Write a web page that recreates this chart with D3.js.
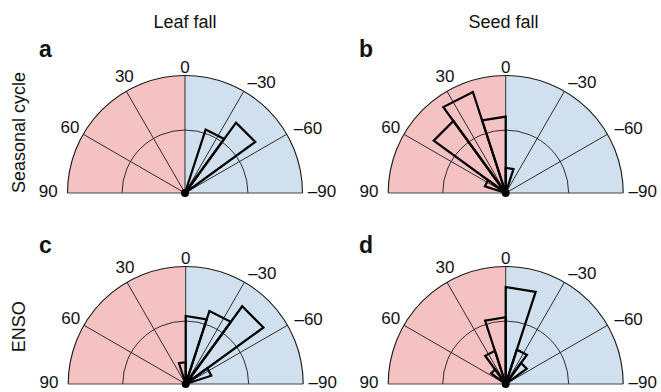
<!DOCTYPE html>
<html>
<head>
<meta charset="utf-8">
<script src="https://cdn.jsdelivr.net/npm/d3@7"></script>
<style>
  html, body { margin: 0; padding: 0; background: #ffffff; }
  svg { display: block; }
  text { font-family: "Liberation Sans", Arial, Helvetica, sans-serif; fill: #111; }
</style>
</head>
<body>
<svg id="chart" width="661" height="392"></svg>
<script>
// Phase-angle bins (degrees), 18° wide, from -90 to 90
const binEdges = [-90, -72, -54, -36, -18, 0, 18, 36, 54, 72, 90];

// Proportion of records per bin, listed from -90 up to 90
const leafSeasonal = [0, 0, 0.207, 0.159, 0, 0, 0, 0, 0, 0];
const seedSeasonal = [0, 0, 0, 0, 0.060, 0.182, 0.253, 0.212, 0.052, 0];
const leafENSO     = [0, 0.064, 0.229, 0.183, 0.162, 0.052, 0, 0, 0, 0];
const seedENSO     = [0, 0, 0.062, 0.086, 0.231, 0.159, 0.083, 0.043, 0, 0];

// Angular tick labels
const tickAngles = [90, 60, 30, 0, -30, -60, -90];
const tickLabels = ["90", "60", "30", "0", "\u201330", "\u201360", "\u201390"];

// Panel text
const columnTitles = ["Leaf fall", "Seed fall"];
const rowTitles = ["Seasonal cycle", "ENSO"];
const panelLetters = ["a", "b", "c", "d"];

// Radial axis: outer rim and the inner reference ring
const radialMax = 0.28;
const radialRing = 0.15;

const panels = [
  { letter: panelLetters[0], values: leafSeasonal, cx: 185,   cy: 193, lx: 39,  ly: 57 },
  { letter: panelLetters[1], values: seedSeasonal, cx: 505.7, cy: 193, lx: 359, ly: 57 },
  { letter: panelLetters[2], values: leafENSO,     cx: 185.7, cy: 384, lx: 39,  ly: 253 },
  { letter: panelLetters[3], values: seedENSO,     cx: 505.7, cy: 384, lx: 359, ly: 253 }
];

const R = 117.5;
const r = d3.scaleLinear().domain([0, radialMax]).range([0, R]);

// label nudges (px) applied after placing at 1.1 × rim radius
const labelNudge = {
  "90": [-7.5, -2], "60": [-3, -1.4], "30": [4, -5], "0": [0, 3.2],
  "-30": [12, 1.4], "-60": [11, -0.4], "-90": [7.8, -2]
};

const svg = d3.select("#chart");

// angle a (deg): 0 at top, positive towards the left
function polar(cx, cy, a, rad) {
  const t = a * Math.PI / 180;
  return [cx - rad * Math.sin(t), cy - rad * Math.cos(t)];
}

panels.forEach(p => {
  const g = svg.append("g");

  // shaded halves
  const sector = d3.arc().innerRadius(0).outerRadius(R);
  g.append("path")
    .attr("transform", `translate(${p.cx},${p.cy})`)
    .attr("d", sector({ startAngle: -Math.PI / 2, endAngle: 0 }))
    .attr("fill", "#f4c2c3");
  g.append("path")
    .attr("transform", `translate(${p.cx},${p.cy})`)
    .attr("d", sector({ startAngle: 0, endAngle: Math.PI / 2 }))
    .attr("fill", "#d0e0ef");

  // radial spokes at 30° steps
  [60, 30, 0, -30, -60].forEach(a => {
    const e = polar(p.cx, p.cy, a, R);
    g.append("line")
      .attr("x1", p.cx).attr("y1", p.cy)
      .attr("x2", e[0]).attr("y2", e[1])
      .attr("stroke", "#1a1a1a").attr("stroke-width", 0.9);
  });

  // inner ring and outer rim
  [r(radialRing), R].forEach((rad, i) => {
    const path = d3.path();
    path.arc(p.cx, p.cy, rad, Math.PI, 2 * Math.PI, false);
    g.append("path")
      .attr("d", path.toString())
      .attr("fill", "none")
      .attr("stroke", "#1a1a1a")
      .attr("stroke-width", i === 0 ? 0.9 : 1.1);
  });

  // base line
  g.append("line")
    .attr("x1", p.cx - R).attr("y1", p.cy)
    .attr("x2", p.cx + R).attr("y2", p.cy)
    .attr("stroke", "#444").attr("stroke-width", 1);

  // rose wedges
  p.values.forEach((v, i) => {
    if (v <= 0) return;
    const a0 = binEdges[i], a1 = binEdges[i + 1];
    const p0 = polar(p.cx, p.cy, a0, r(v));
    const p1 = polar(p.cx, p.cy, a1, r(v));
    g.append("path")
      .attr("d", `M${p.cx},${p.cy}L${p0[0]},${p0[1]}L${p1[0]},${p1[1]}Z`)
      .attr("fill", "none")
      .attr("stroke", "#000")
      .attr("stroke-width", 2.2)
      .attr("stroke-linejoin", "miter");
  });

  // hub
  g.append("circle")
    .attr("cx", p.cx).attr("cy", p.cy).attr("r", 4)
    .attr("fill", "#000");

  // tick labels
  tickAngles.forEach((a, i) => {
    const pos = polar(p.cx, p.cy, a, R * 1.1);
    const n = labelNudge[String(a)];
    g.append("text")
      .attr("x", pos[0] + n[0])
      .attr("y", pos[1] + n[1])
      .attr("dy", "0.35em")
      .attr("text-anchor", "middle")
      .attr("font-size", 17)
      .text(tickLabels[i]);
  });

  // panel letter
  g.append("text")
    .attr("x", p.lx).attr("y", p.ly)
    .attr("font-size", 23)
    .attr("font-weight", "bold")
    .text(p.letter);
});

// column titles
[185, 503.5].forEach((x, i) => {
  svg.append("text")
    .attr("x", x).attr("y", 28)
    .attr("text-anchor", "middle")
    .attr("font-size", 18)
    .text(columnTitles[i]);
});

// row titles
[132.5, 326.7].forEach((y, i) => {
  svg.append("text")
    .attr("transform", `translate(25,${y}) rotate(-90)`)
    .attr("text-anchor", "middle")
    .attr("font-size", 18)
    .text(rowTitles[i]);
});
</script>
</body>
</html>
